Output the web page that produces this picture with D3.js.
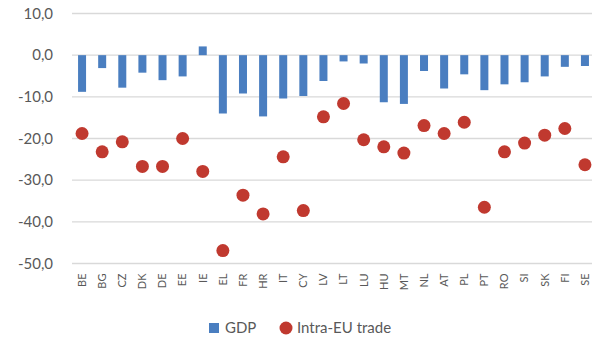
<!DOCTYPE html>
<html>
<head>
<meta charset="utf-8">
<script src="https://cdn.jsdelivr.net/npm/d3@7"></script>
<style>
  body { margin: 0; background: #fff; }
  text { font-family: Lato, 'Open Sans', sans-serif; fill: #595959; }
</style>
</head>
<body>
<div id="chart"></div>
<script>
// Country codes along the x axis
const countries = ['BE', 'BG', 'CZ', 'DK', 'DE', 'EE', 'IE', 'EL', 'FR', 'HR', 'IT', 'CY', 'LV', 'LT',
  'LU', 'HU', 'MT', 'NL', 'AT', 'PL', 'PT', 'RO', 'SI', 'SK', 'FI', 'SE']

// GDP change (bars)
const gdp = [-8.8, -3.1, -7.8, -4.2, -6.0, -5.1, 2.1, -14.0, -9.2, -14.7, -10.4, -9.8, -6.2, -1.5,
  -2.0, -11.3, -11.7, -3.8, -8.0, -4.6, -8.4, -7.0, -6.5, -5.1, -2.8, -2.6]

// Intra-EU trade change (dots)
const trade = [-18.8, -23.2, -20.8, -26.7, -26.7, -20.0, -27.9, -46.9, -33.6, -38.1, -24.4, -37.3, -14.8, -11.6,
  -20.3, -22.0, -23.5, -16.9, -18.8, -16.1, -36.5, -23.2, -21.1, -19.2, -17.6, -26.3]

const yTicks = [10, 0, -10, -20, -30, -40, -50]

const width = 592
const height = 340
const margin = {top: 13.5, right: -3, bottom: 76.5, left: 72}

const svg = d3.select('#chart').append('svg')
  .attr('width', width)
  .attr('height', height)

const x = d3.scaleBand()
  .domain(countries)
  .range([margin.left, width - margin.right])

const y = d3.scaleLinear()
  .domain([-50, 10])
  .range([height - margin.bottom, margin.top])

// gridlines
svg.append('g')
  .selectAll('line')
  .data(yTicks)
  .enter()
  .append('line')
  .attr('x1', margin.left)
  .attr('x2', width)
  .attr('y1', d => y(d))
  .attr('y2', d => y(d))
  .attr('stroke', '#d9d9d9')
  .attr('stroke-width', 1.3)

// y labels
svg.append('g')
  .selectAll('text')
  .data(yTicks)
  .enter()
  .append('text')
  .attr('x', 53)
  .attr('y', d => y(d))
  .attr('dy', '0.35em')
  .attr('text-anchor', 'end')
  .style('font-size', '15px')
  .text(d => d3.format('.1f')(d).replace('.', ',').replace('−', '-'))

// bars
const barW = 8
svg.append('g')
  .selectAll('rect')
  .data(countries)
  .enter()
  .append('rect')
  .attr('x', d => x(d) + x.bandwidth() / 2 - barW / 2)
  .attr('width', barW)
  .attr('y', (d, i) => Math.min(y(gdp[i]), y(0)))
  .attr('height', (d, i) => Math.abs(y(gdp[i]) - y(0)))
  .attr('fill', '#4a7ec0')

// dots
svg.append('g')
  .selectAll('circle')
  .data(countries)
  .enter()
  .append('circle')
  .attr('cx', d => x(d) + x.bandwidth() / 2)
  .attr('cy', (d, i) => y(trade[i]))
  .attr('r', 6.5)
  .attr('fill', '#c0392f')

// x labels, rotated
svg.append('g')
  .selectAll('text')
  .data(countries)
  .enter()
  .append('text')
  .attr('transform', d => `translate(${x(d) + x.bandwidth() / 2},${y(-50) + 10}) rotate(-90)`)
  .attr('dy', '0.35em')
  .attr('text-anchor', 'end')
  .style('font-size', '11px')
  .text(d => d)

// legend
const leg = svg.append('g')
leg.append('rect')
  .attr('x', 209).attr('y', 323)
  .attr('width', 10).attr('height', 10)
  .attr('fill', '#4a7ec0')
leg.append('text')
  .attr('x', 225).attr('y', 328)
  .attr('dy', '0.35em')
  .style('font-size', '15px')
  .text('GDP')
leg.append('circle')
  .attr('cx', 286).attr('cy', 328)
  .attr('r', 6.5)
  .attr('fill', '#c0392f')
leg.append('text')
  .attr('x', 297).attr('y', 328)
  .attr('dy', '0.35em')
  .style('font-size', '15px')
  .text('Intra-EU trade')
</script>
</body>
</html>
